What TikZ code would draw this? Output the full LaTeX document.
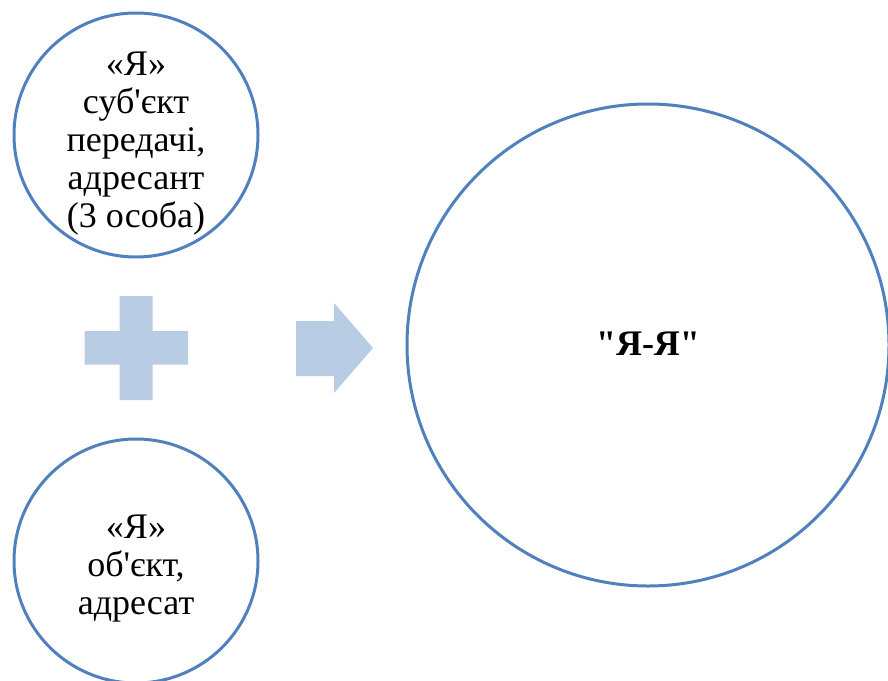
\documentclass[tikz,border=0pt]{standalone}
\usepackage{fontspec}
\setmainfont{Liberation Serif}[Ligatures=TeXOff]
\definecolor{ringblue}{RGB}{79,129,189}
\definecolor{shapeblue}{RGB}{184,204,228}
\begin{document}
\begin{tikzpicture}[x=1pt,y=-1pt,
  ring/.style={circle, draw=ringblue, line width=3pt, fill=white, inner sep=0pt},
  ringtext/.style={inner sep=0pt, align=center, font=\fontsize{36}{38}\selectfont},
  shapefill/.style={fill=shapeblue, draw=none}]
\useasboundingbox (0,0) rectangle (888,680);
\clip (0,0) rectangle (888,680);

% the two "I" circles on the left
\node[ring, minimum size=244pt] (sender) at (136,135) {};
\node[ringtext] (sender-text) at (136,144)
  {«Я»\\суб'єкт\\передачі,\\адресант\\(3 особа)};
\node[ring, minimum size=244pt] (receiver) at (136,561) {};
\node[ringtext] (receiver-text) at (136,569)
  {«Я»\\об'єкт,\\адресат};

% the result circle
\node[ring, minimum size=482pt] (self) at (648,345) {};
\node[ringtext, font=\fontsize{36}{38}\selectfont\bfseries] (self-text) at (648,344) {"Я-Я"};

% plus sign between the two left circles
\fill[shapefill] (119.5,296) -- (152.5,296) -- (152.5,331) -- (188,331)
  -- (188,364.5) -- (152.5,364.5) -- (152.5,400) -- (119.5,400)
  -- (119.5,364.5) -- (84.5,364.5) -- (84.5,331) -- (119.5,331) -- cycle;

% block arrow pointing to the result
\fill[shapefill] (296,321) -- (334,321) -- (334,303) -- (373,348)
  -- (334,393) -- (334,376) -- (296,376) -- cycle;
\end{tikzpicture}
\end{document}
